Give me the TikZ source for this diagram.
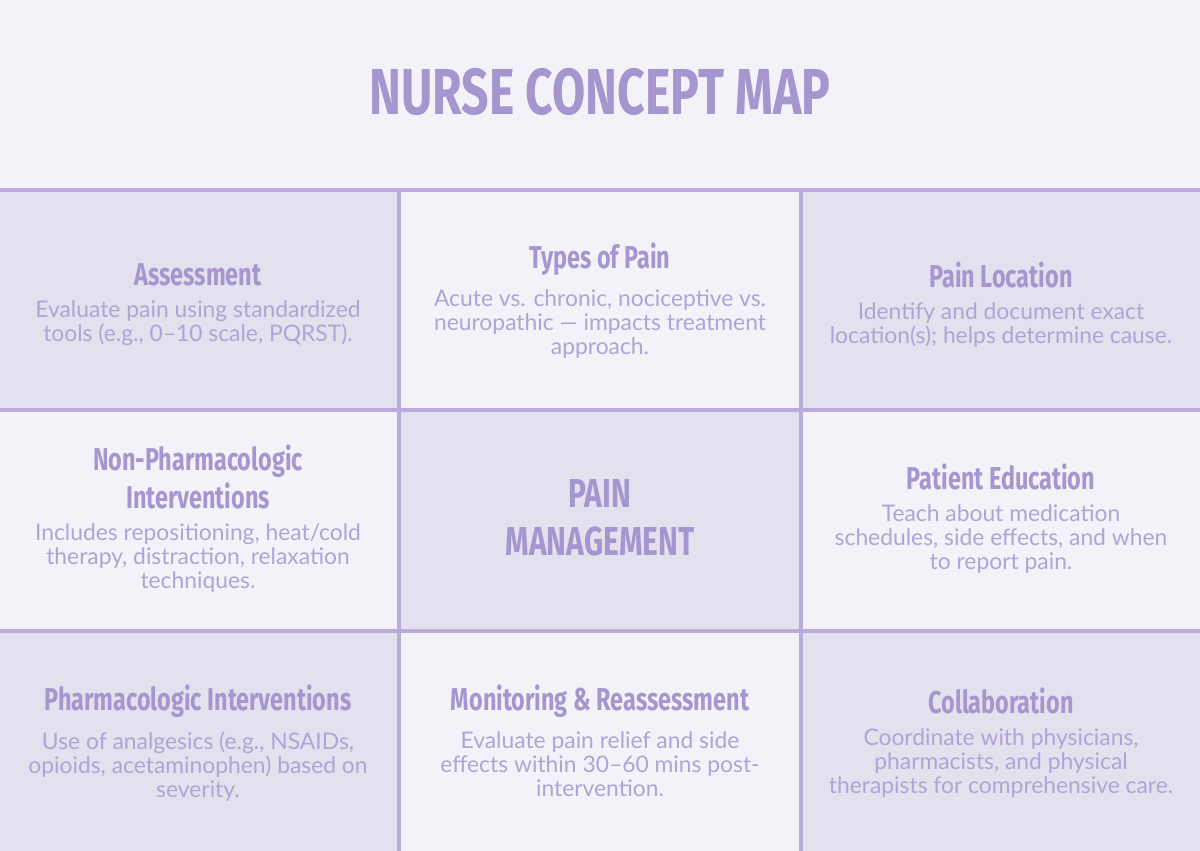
\documentclass[tikz,border=0pt]{standalone}
\usepackage{fontspec}
\setmainfont{Lato}
\newfontfamily\headfont[FakeStretch=0.74]{Fira Sans}
\usetikzlibrary{positioning}
\definecolor{bgpale}{HTML}{F3F2F8}
\definecolor{celldark}{HTML}{E4E1EF}
\definecolor{gridline}{HTML}{B9ABDC}
\definecolor{headtxt}{HTML}{A596CF}
\definecolor{bodytxt}{HTML}{B0A3D6}
\tikzset{
  headline/.style={text=headtxt,font=\headfont\fontsize{18}{22}\selectfont\bfseries,align=center},
  bodyline/.style={text=bodytxt,font=\fontsize{13}{13.8}\selectfont,align=center},
  hubline/.style={text=headtxt,font=\headfont\fontsize{23}{27}\selectfont\bfseries,align=center}
}
\begin{document}
\begin{tikzpicture}[x=0.02cm,y=-0.02cm]
\useasboundingbox (0,0) rectangle (1200,851);
\fill[bgpale] (0,0) rectangle (1200,851);
% shaded cells
\foreach \cx/\cy in {0/0,2/0,1/1,0/2,2/2}{
  \fill[celldark] ({\cx*400},{190+\cy*220.5}) rectangle ({\cx*400+400},{190+\cy*220.5+220.5});}
% grid
\draw[gridline,line width=2.4pt] (0,190) -- (1200,190);
\draw[gridline,line width=2.4pt] (0,410) -- (1200,410);
\draw[gridline,line width=2.4pt] (0,631) -- (1200,631);
\draw[gridline,line width=2.4pt] (399,190) -- (399,851);
\draw[gridline,line width=2.4pt] (801,190) -- (801,851);
% title
\node[text=headtxt,font=\headfont\fontsize{37}{42}\selectfont\bfseries] (title) at (600,92) {NURSE CONCEPT MAP};
% row 1
\node[headline] (assess) at (198,275) {Assessment};
\node[bodyline,below=1pt of assess] (assessT) {Evaluate pain using standardized\\tools (e.g., 0–10 scale, PQRST).};
\node[headline] (types) at (600,259) {Types of Pain};
\node[bodyline,below=1pt of types] (typesT) {Acute vs. chronic, nociceptive vs.\\neuropathic — impacts treatment\\approach.};
\node[headline] (locat) at (1001,275) {Pain Location};
\node[bodyline,below=1pt of locat] (locatT) {Identify and document exact\\location(s); helps determine cause.};
% row 2
\node[headline] (nonph) at (198,477) {Non-Pharmacologic\\Interventions};
\node[bodyline,below=1pt of nonph] (nonphT) {Includes repositioning, heat/cold\\therapy, distraction, relaxation\\techniques.};
\node[hubline] (hub) at (600,518) {PAIN\\MANAGEMENT};
\node[headline] (educ) at (1001,477) {Patient Education};
\node[bodyline,below=1pt of educ] (educT) {Teach about medication\\schedules, side effects, and when\\to report pain.};
% row 3
\node[headline] (pharm) at (198,701) {Pharmacologic Interventions};
\node[bodyline,below=1pt of pharm] (pharmT) {Use of analgesics (e.g., NSAIDs,\\opioids, acetaminophen) based on\\severity.};
\node[headline] (monit) at (600,701) {Monitoring \& Reassessment};
\node[bodyline,below=1pt of monit] (monitT) {Evaluate pain relief and side\\effects within 30–60 mins post-\\intervention.};
\node[headline] (collab) at (1001,701) {Collaboration};
\node[bodyline,below=1pt of collab] (collabT) {Coordinate with physicians,\\pharmacists, and physical\\therapists for comprehensive care.};
\end{tikzpicture}
\end{document}
